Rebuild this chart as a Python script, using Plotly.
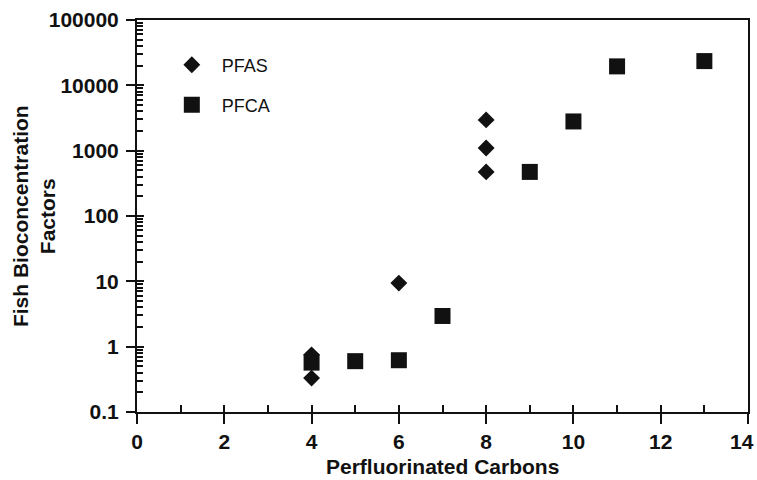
import plotly.graph_objects as go

# Data
pfas_carbons = [4, 4, 6, 8, 8, 8]
pfas_bcf = [0.75, 0.33, 9.4, 2960, 1100, 473]

pfca_carbons = [4, 5, 6, 7, 9, 10, 11, 13]
pfca_bcf = [0.57, 0.6, 0.62, 2.95, 473, 2800, 19500, 23500]

y_major = [0.1, 1, 10, 100, 1000, 10000, 100000]
y_labels = ["0.1", "1", "10", "100", "1000", "10000", "100000"]
y_minor = [d * 10 ** k for k in range(-1, 5) for d in range(2, 10)]

x_major = [0, 2, 4, 6, 8, 10, 12, 14]
x_labels = ["0", "2", "4", "6", "8", "10", "12", "14"]
x_minor = [1, 3, 5, 7, 9, 11, 13]

INK = "#111111"
FONT = "Liberation Sans, Arial, Helvetica, sans-serif"

fig = go.Figure()

fig.add_trace(go.Scatter(
    x=pfas_carbons, y=pfas_bcf, mode="markers", name="  PFAS",
    marker=dict(symbol="diamond", size=13, color=INK),
    legend="legend",
))
fig.add_trace(go.Scatter(
    x=pfca_carbons, y=pfca_bcf, mode="markers", name="  PFCA",
    marker=dict(symbol="square", size=16, color=INK),
    legend="legend2",
))
# empty trace so the overlay axes (inside halves of major ticks) are drawn
fig.add_trace(go.Scatter(x=[None], y=[None], xaxis="x2", yaxis="y2",
                         showlegend=False, hoverinfo="skip"))

# the last x label sits at the right edge of the page; it is drawn as an
# annotation anchored to its tick so it is not clipped
tick_text_x = x_labels[:-1] + [""]

fig.update_layout(
    width=757, height=480,
    margin=dict(l=137, r=9, t=20, b=68, autoexpand=False),
    paper_bgcolor="white", plot_bgcolor="white",
    font=dict(family=FONT, color=INK),
    xaxis=dict(
        range=[0, 14], tickmode="array", tickvals=x_major,
        ticktext=tick_text_x,
        ticks="outside", ticklen=10, tickwidth=2, tickcolor=INK,
        showline=True, linewidth=2, linecolor=INK, mirror=True,
        showgrid=False, zeroline=False, ticklabeloverflow="allow",
        automargin=False,
        tickfont=dict(size=21, family=FONT, color=INK, weight="bold"),
        minor=dict(tickmode="array", tickvals=x_minor, ticks="inside",
                   ticklen=7, tickwidth=2, tickcolor=INK, showgrid=False),
    ),
    yaxis=dict(
        type="log", range=[-1, 5], tickmode="array", tickvals=y_major,
        ticktext=y_labels,
        ticks="outside", ticklen=9, tickwidth=2, tickcolor=INK,
        showline=True, linewidth=2, linecolor=INK, mirror=True,
        showgrid=False, zeroline=False, ticklabelstandoff=3,
        ticklabeloverflow="allow", automargin=False,
        tickfont=dict(size=21, family=FONT, color=INK, weight="bold"),
        minor=dict(tickmode="array", tickvals=y_minor, ticks="inside",
                   ticklen=6, tickwidth=1.5, tickcolor=INK, showgrid=False),
    ),
    xaxis2=dict(
        overlaying="x", anchor="y2", range=[0, 14], tickmode="array",
        tickvals=x_major, ticks="inside", ticklen=7, tickwidth=2,
        tickcolor=INK, showticklabels=False, showline=False,
        showgrid=False, zeroline=False, automargin=False,
    ),
    yaxis2=dict(
        overlaying="y", anchor="x2", type="log", range=[-1, 5],
        tickmode="array", tickvals=y_major, ticks="inside", ticklen=7,
        tickwidth=2, tickcolor=INK, showticklabels=False, showline=False,
        showgrid=False, zeroline=False, automargin=False,
    ),
    legend=dict(
        x=0.057, y=0.885, xanchor="left", yanchor="middle",
        bgcolor="rgba(0,0,0,0)", borderwidth=0,
        font=dict(size=18, family=FONT, color=INK),
    ),
    legend2=dict(
        x=0.057, y=0.783, xanchor="left", yanchor="middle",
        bgcolor="rgba(0,0,0,0)", borderwidth=0,
        font=dict(size=18, family=FONT, color=INK),
    ),
    annotations=[
        dict(text="<b>" + x_labels[-1] + "</b>", xref="x", yref="paper",
             x=x_major[-1], y=-0.074, xanchor="right", yanchor="middle",
             xshift=8, showarrow=False,
             font=dict(size=21, family=FONT, color=INK)),
        dict(text="<b>Perfluorinated Carbons</b>", xref="paper", yref="paper",
             x=0.5, y=-0.138, xanchor="center", yanchor="middle",
             showarrow=False, font=dict(size=21, family=FONT, color=INK)),
        dict(text="<b>Fish Bioconcentration<br>Factors</b>", xref="paper",
             yref="paper", x=-0.1685, y=0.5, xanchor="center",
             yanchor="middle", textangle=-90, showarrow=False,
             font=dict(size=21, family=FONT, color=INK)),
    ],
)

fig.write_html(
    "out.html",
    config={"displayModeBar": False},
    post_script="document.body.style.margin='0';document.body.style.overflow='hidden';",
)
